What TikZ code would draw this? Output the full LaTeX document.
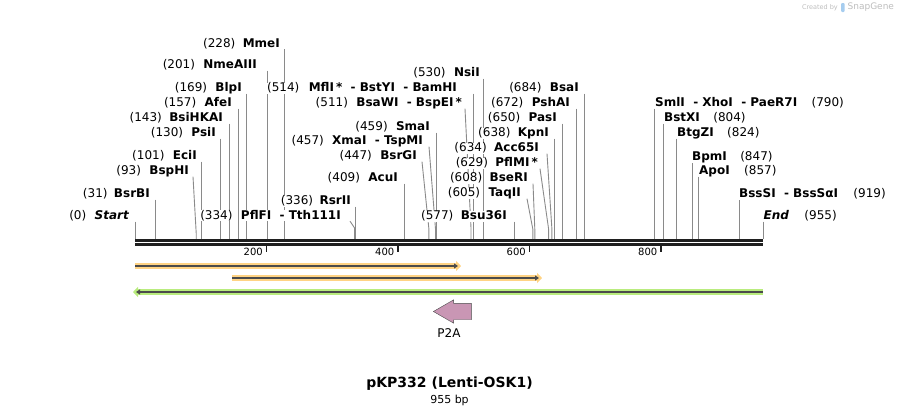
\documentclass[tikz,border=0pt]{standalone}
\usepackage{fontspec}
\setmainfont{DejaVu Sans}
\usepackage{tikz}
\usetikzlibrary{arrows.meta,positioning,shapes.arrows,backgrounds}
\definecolor{cutgray}{HTML}{8A8A8A}
\definecolor{seqdark}{HTML}{1F1F1F}
\definecolor{featdark}{HTML}{4B4B4B}
\definecolor{softorange}{HTML}{FFD384}
\definecolor{softgreen}{HTML}{B9EC7E}
\definecolor{mauve}{HTML}{C996B4}
\definecolor{wmgray}{HTML}{BDBDBD}
\definecolor{wmblue}{HTML}{A6CDEF}
\tikzset{
  enzyme/.style={fill=white,inner sep=0pt,text height=9pt,text depth=2pt,font=\fontsize{12}{14}\selectfont\bfseries},
  bound/.style={enzyme,font=\fontsize{12}{14}\selectfont\bfseries\itshape},
  sitepos/.style={fill=white,inner sep=0pt,text height=9pt,text depth=2pt,font=\fontsize{12}{14}\selectfont},
  cut/.style={cutgray,line width=0.9pt},
  seqline/.style={seqdark,line width=2.7pt},
  tick/.style={seqdark,line width=1.5pt},
  ticklabel/.style={inner sep=0pt,font=\fontsize{10}{12}\selectfont},
  glow/.style={#1,line width=5.5pt,-{Triangle[length=5pt,width=10pt]}},
  featarrow/.style={featdark,line width=1.8pt,-{Triangle[length=4pt,width=5pt]}}
}

\begin{document}
\begin{tikzpicture}[
  x=1pt,y=-1pt,
  titletext/.style={inner sep=0pt,font=\fontsize{14}{16}\selectfont\bfseries},
  sizetext/.style={inner sep=0pt,font=\fontsize{11}{13}\selectfont},
  featlabel/.style={inner sep=0pt,font=\fontsize{12}{14}\selectfont},
  wmtext/.style={inner sep=0pt,text=wmgray}
]
  \useasboundingbox (0,0) rectangle (899,415);

  % sequence and ruler
  \coordinate (bbl) at (135,240.3);
  \coordinate (bbr) at (763,240.3);
  \draw[seqline] (bbl) -- (bbr);
  \draw[seqline] ([yshift=-4pt]bbl) -- ([yshift=-4pt]bbr);
  \coordinate (t200) at (266.5,245.5);
  \coordinate (t400) at (398,245.5);
  \coordinate (t600) at (529.6,245.5);
  \coordinate (t800) at (661.1,245.5);
  \draw[tick] (t200) -- ++(0,6.5);
  \draw[tick] (t400) -- ++(0,6.5);
  \draw[tick] (t600) -- ++(0,6.5);
  \draw[tick] (t800) -- ++(0,6.5);
  \node[ticklabel,anchor=east] (n200) at (263,251.5) {200};
  \node[ticklabel,anchor=east] (n400) at (394.5,251.5) {400};
  \node[ticklabel,anchor=east] (n600) at (526,251.5) {600};
  \node[ticklabel,anchor=east] (n800) at (657.5,251.5) {800};

  % cut sites on the sequence
  \coordinate (s0) at (135,239);
  \coordinate (s31) at (155.4,239);
  \coordinate (s93) at (196.2,239);
  \coordinate (s101) at (201.4,239);
  \coordinate (s130) at (220.5,239);
  \coordinate (s143) at (229,239);
  \coordinate (s157) at (238.2,239);
  \coordinate (s169) at (246.1,239);
  \coordinate (s201) at (267.2,239);
  \coordinate (s228) at (284.9,239);
  \coordinate (s334) at (354.6,239);
  \coordinate (s336) at (355.9,239);
  \coordinate (s409) at (404,239);
  \coordinate (s447) at (428.9,239);
  \coordinate (s457) at (435.5,239);
  \coordinate (s459) at (436.8,239);
  \coordinate (s511) at (471,239);
  \coordinate (s514) at (473,239);
  \coordinate (s530) at (483.5,239);
  \coordinate (s577) at (514.4,239);
  \coordinate (s605) at (532.8,239);
  \coordinate (s608) at (534.8,239);
  \coordinate (s629) at (548.6,239);
  \coordinate (s634) at (551.9,239);
  \coordinate (s638) at (554.5,239);
  \coordinate (s650) at (562.4,239);
  \coordinate (s672) at (576.9,239);
  \coordinate (s684) at (584.8,239);
  \coordinate (s790) at (654.5,239);
  \coordinate (s804) at (663.7,239);
  \coordinate (s824) at (676.9,239);
  \coordinate (s847) at (692,239);
  \coordinate (s857) at (698.6,239);
  \coordinate (s919) at (739.3,239);
  \coordinate (s955) at (763,239);

  % labels left of their site
  \node[bound,anchor=east] (startlab) at (129,216) {Start};
  \node[sitepos,left=8pt of startlab] (p0) {(0)};
  \node[enzyme,anchor=east] (bsrbi) at (150,194) {BsrBI};
  \node[sitepos,left=6pt of bsrbi] (p31) {(31)};
  \node[enzyme,anchor=east] (bsphi) at (189,171) {BspHI};
  \node[sitepos,left=8pt of bsphi] (p93) {(93)};
  \node[enzyme,anchor=east] (ecii) at (197,156) {EciI};
  \node[sitepos,left=8pt of ecii] (p101) {(101)};
  \node[enzyme,anchor=east] (psii) at (216,133) {PsiI};
  \node[sitepos,left=8pt of psii] (p130) {(130)};
  \node[enzyme,anchor=east] (bsihkai) at (223,118) {BsiHKAI};
  \node[sitepos,left=7pt of bsihkai] (p143) {(143)};
  \node[enzyme,anchor=east] (afei) at (232,103) {AfeI};
  \node[sitepos,left=8pt of afei] (p157) {(157)};
  \node[enzyme,anchor=east] (blpi) at (242,88) {BlpI};
  \node[sitepos,left=8pt of blpi] (p169) {(169)};
  \node[enzyme,anchor=east] (nmeaiii) at (257,65) {NmeAIII};
  \node[sitepos,left=8pt of nmeaiii] (p201) {(201)};
  \node[enzyme,anchor=east] (mmei) at (280,43.7) {MmeI};
  \node[sitepos,left=7pt of mmei] (p228) {(228)};
  \node[enzyme,anchor=east] (pflfi) at (341,215.5) {PflFI~~- Tth111I};
  \node[sitepos,left=8pt of pflfi] (p334) {(334)};
  \node[enzyme,anchor=east] (rsrii) at (351,201) {RsrII};
  \node[sitepos,left=6pt of rsrii] (p336) {(336)};
  \node[enzyme,anchor=east] (acui) at (398,178) {AcuI};
  \node[sitepos,left=8pt of acui] (p409) {(409)};
  \node[enzyme,anchor=east] (bsrgi) at (417,156) {BsrGI};
  \node[sitepos,left=8pt of bsrgi] (p447) {(447)};
  \node[enzyme,anchor=east] (xmai) at (423,141) {XmaI~~- TspMI};
  \node[sitepos,left=8pt of xmai] (p457) {(457)};
  \node[enzyme,anchor=east] (smai) at (430,127) {SmaI};
  \node[sitepos,left=8pt of smai] (p459) {(459)};
  \node[enzyme,anchor=east] (bsawi) at (462,103) {BsaWI~~- BspEI\,*};
  \node[sitepos,left=8pt of bsawi] (p511) {(511)};
  \node[enzyme,anchor=east] (mfli) at (457,88) {MflI\,*~~- BstYI~~- BamHI};
  \node[sitepos,left=9pt of mfli] (p514) {(514)};
  \node[enzyme,anchor=east] (nsii) at (480,73) {NsiI};
  \node[sitepos,left=8pt of nsii] (p530) {(530)};
  \node[enzyme,anchor=east] (bsu36i) at (507,216) {Bsu36I};
  \node[sitepos,left=7pt of bsu36i] (p577) {(577)};
  \node[enzyme,anchor=east] (taqii) at (521,193) {TaqII};
  \node[sitepos,left=8pt of taqii] (p605) {(605)};
  \node[enzyme,anchor=east] (bseri) at (528,178) {BseRI};
  \node[sitepos,left=7pt of bseri] (p608) {(608)};
  \node[enzyme,anchor=east] (pflmi) at (538,163) {PflMI\,*};
  \node[sitepos,left=7pt of pflmi] (p629) {(629)};
  \node[enzyme,anchor=east] (acc65i) at (539,148) {Acc65I};
  \node[sitepos,left=7pt of acc65i] (p634) {(634)};
  \node[enzyme,anchor=east] (kpni) at (549,133) {KpnI};
  \node[sitepos,left=7pt of kpni] (p638) {(638)};
  \node[enzyme,anchor=east] (pasi) at (557,118) {PasI};
  \node[sitepos,left=8pt of pasi] (p650) {(650)};
  \node[enzyme,anchor=east] (pshai) at (570,103) {PshAI};
  \node[sitepos,left=8pt of pshai] (p672) {(672)};
  \node[enzyme,anchor=east] (bsai) at (579,88) {BsaI};
  \node[sitepos,left=8pt of bsai] (p684) {(684)};

  % labels right of their site
  \node[enzyme,anchor=west] (smli) at (655,103) {SmlI~~- XhoI~~- PaeR7I};
  \node[sitepos,right=14pt of smli] (p790) {(790)};
  \node[enzyme,anchor=west] (bstxi) at (664,118) {BstXI};
  \node[sitepos,right=13pt of bstxi] (p804) {(804)};
  \node[enzyme,anchor=west] (btgzi) at (677,133) {BtgZI};
  \node[sitepos,right=13pt of btgzi] (p824) {(824)};
  \node[enzyme,anchor=west] (bpmi) at (692,157) {BpmI};
  \node[sitepos,right=13pt of bpmi] (p847) {(847)};
  \node[enzyme,anchor=west] (apoi) at (699,171) {ApoI};
  \node[sitepos,right=14pt of apoi] (p857) {(857)};
  \node[enzyme,anchor=west] (bsssi) at (739,194) {BssSI~~- BssSαI};
  \node[sitepos,right=15pt of bsssi] (p919) {(919)};
  \node[bound,anchor=west] (endlab) at (763.5,216) {End};
  \node[sitepos,right=15pt of endlab] (p955) {(955)};

  % site lines, behind the labels
  \begin{scope}[on background layer]
    \draw[cut] (s0 |- startlab.south) -- (s0);
    \draw[cut] (s31 |- bsrbi.south) -- (s31);
    \draw[cut] ([xshift=4pt]bsphi.south east) -- ([yshift=6pt]s93) -- (s93);
    \draw[cut] (s101 |- ecii.south) -- (s101);
    \draw[cut] (s130 |- psii.south) -- (s130);
    \draw[cut] (s143 |- bsihkai.south) -- (s143);
    \draw[cut] (s157 |- afei.south) -- (s157);
    \draw[cut] (s169 |- blpi.south) -- (s169);
    \draw[cut] (s201 |- nmeaiii.south) -- (s201);
    \draw[cut] (s228 |- mmei.south) -- (s228);
    \draw[cut] ([xshift=9pt]pflfi.south east) -- ([yshift=11pt]s334) -- (s334);
    \draw[cut] (s336 |- rsrii.south) -- (s336);
    \draw[cut] (s409 |- acui.south) -- (s409);
    \draw[cut] ([xshift=5pt]bsrgi.south east) -- ([yshift=10pt]s447) -- (s447);
    \draw[cut] ([xshift=6pt]xmai.south east) -- ([yshift=10pt]s457) -- (s457);
    \draw[cut] (s459 |- smai.south) -- (s459);
    \draw[cut] ([xshift=3pt]bsawi.south east) -- ([yshift=11pt]s511) -- (s511);
    \draw[cut] (s514 |- mfli.south) -- (s514);
    \draw[cut] (s530 |- nsii.south) -- (s530);
    \draw[cut] (s577 |- bsu36i.south) -- (s577);
    \draw[cut] ([xshift=6pt]taqii.south east) -- ([yshift=10pt]s605) -- (s605);
    \draw[cut] ([xshift=5pt]bseri.south east) -- ([yshift=10pt]s608) -- (s608);
    \draw[cut] ([xshift=2pt]pflmi.south east) -- ([yshift=10pt]s629) -- (s629);
    \draw[cut] ([xshift=8pt]acc65i.south east) -- ([yshift=10pt]s634) -- (s634);
    \draw[cut] (s638 |- kpni.south) -- (s638);
    \draw[cut] (s650 |- pasi.south) -- (s650);
    \draw[cut] (s672 |- pshai.south) -- (s672);
    \draw[cut] (s684 |- bsai.south) -- (s684);
    \draw[cut] (s790 |- smli.south) -- (s790);
    \draw[cut] (s804 |- bstxi.south) -- (s804);
    \draw[cut] (s824 |- btgzi.south) -- (s824);
    \draw[cut] (s847 |- bpmi.south) -- (s847);
    \draw[cut] (s857 |- apoi.south) -- (s857);
    \draw[cut] (s919 |- bsssi.south) -- (s919);
    \draw[cut] (s955 |- endlab.south) -- (s955);
  \end{scope}

  % features
  \coordinate (f1s) at (135,266);
  \coordinate (f1e) at (458,266);
  \coordinate (f2s) at (232,278);
  \coordinate (f2e) at (539,278);
  \coordinate (f3s) at (763,292);
  \coordinate (f3e) at (136,292);
  \draw[glow=softorange] (f1s) -- ([xshift=3pt]f1e);
  \draw[featarrow] (f1s) -- (f1e);
  \draw[glow=softorange] (f2s) -- ([xshift=3pt]f2e);
  \draw[featarrow] (f2s) -- (f2e);
  \draw[glow=softgreen] (f3s) -- ([xshift=-3pt]f3e);
  \draw[featarrow] (f3s) -- (f3e);

  \node[single arrow,draw=featdark,fill=mauve,shape border rotate=180,inner sep=8pt,
        minimum height=38pt,minimum width=23pt,single arrow head extend=3.5pt,
        single arrow tip angle=60,anchor=tip] (p2a) at (433,311.5) {};
  \node[featlabel] (p2alabel) at (449,333) {P2A};

  % title
  \node[titletext] (title) at (449.5,384) {pKP332 (Lenti-OSK1)};
  \node[sizetext,below=4pt of title] (size) {955 bp};

  % watermark
  \node[wmtext,font=\fontsize{6.5}{8}\selectfont,anchor=east] (created) at (838,7.5) {Created by};
  \node[fill=wmblue,inner sep=0pt,minimum width=3.5pt,minimum height=9pt,rounded corners=1pt,right=3pt of created] (logo) {};
  \node[wmtext,font=\fontsize{9}{11}\selectfont,right=2.5pt of logo] (snapgene) {SnapGene};
\end{tikzpicture}
\end{document}
